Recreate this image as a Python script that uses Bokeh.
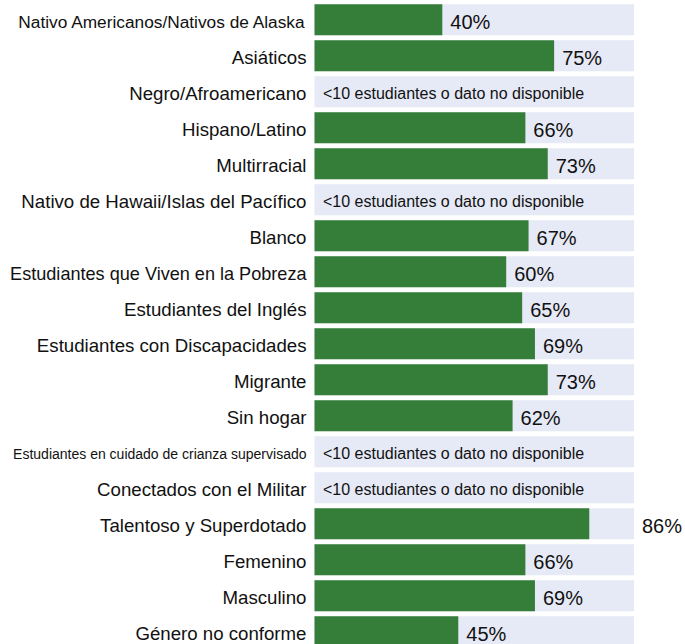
from bokeh.plotting import figure
from bokeh.models import Range1d, ColumnDataSource
from bokeh.core.properties import value
from bokeh.embed import file_html
from bokeh.resources import INLINE

categories = [
    "Nativo Americanos/Nativos de Alaska",
    "Asiáticos",
    "Negro/Afroamericano",
    "Hispano/Latino",
    "Multirracial",
    "Nativo de Hawaii/Islas del Pacífico",
    "Blanco",
    "Estudiantes que Viven en la Pobreza",
    "Estudiantes del Inglés",
    "Estudiantes con Discapacidades",
    "Migrante",
    "Sin hogar",
    "Estudiantes en cuidado de crianza supervisado",
    "Conectados con el Militar",
    "Talentoso y Superdotado",
    "Femenino",
    "Masculino",
    "Género no conforme",
]
values = [40, 75, None, 66, 73, None, 67, 60, 65, 69, 73, 62, None, None, 86, 66, 69, 45]
missing_text = "<10 estudiantes o dato no disponible"
full_scale = 100

# styling
GREEN = "#357E3A"
BG = "#E6E9F6"
TXT = "#111111"
FONT = "Liberation Sans"
label_size = {"Nativo Americanos/Nativos de Alaska": "17.3px",
              "Estudiantes que Viven en la Pobreza": "18.1px",
              "Estudiantes en cuidado de crianza supervisado": "14px"}

px_per = 3.195
W, H = 685, 644
x0_px = 314
x_start = -x0_px / px_per
x_end = x_start + W / px_per
pitch = 36.0
y_top = -19.3 / pitch
y_bot = y_top + H / pitch

p = figure(width=W, height=H, output_backend="svg", toolbar_location=None,
           x_range=Range1d(x_start, x_end), y_range=Range1d(y_bot, y_top),
           min_border=0, min_border_left=0, min_border_right=0,
           min_border_top=0, min_border_bottom=0)
p.xaxis.visible = False
p.yaxis.visible = False
p.grid.visible = False
p.outline_line_color = None
p.background_fill_color = "white"
p.border_fill_color = "white"

idx = list(range(len(categories)))
bar_h = 31 / pitch

p.hbar(y=idx, left=0, right=[full_scale] * len(idx), height=bar_h,
       fill_color=BG, line_color=None)

have = [i for i, v in enumerate(values) if v is not None]
p.hbar(y=have, left=0, right=[values[i] for i in have], height=bar_h,
       fill_color=GREEN, line_color=None)

# value labels
lx = [values[i] if values[i] <= 80 else full_scale for i in have]
p.text(x=lx, y=have, text=[f"{values[i]}%" for i in have],
       x_offset=8, y_offset=2.5, text_align="left", text_baseline="middle",
       text_font=value(FONT), text_font_size="20px", text_color=TXT)

# missing labels
miss = [i for i, v in enumerate(values) if v is None]
p.text(x=[0] * len(miss), y=miss, text=[missing_text] * len(miss),
       x_offset=8.5, y_offset=1.5, text_align="left", text_baseline="middle",
       text_font=value(FONT), text_font_size="16px", text_color=TXT)

# category labels
src = ColumnDataSource(dict(x=[0] * len(idx), y=idx, t=categories,
                            fs=[label_size.get(c, "18.67px") for c in categories]))
p.text(x="x", y="y", text="t", source=src, x_offset=-8, y_offset=2,
       text_align="right", text_baseline="middle",
       text_font=value(FONT), text_font_size="fs", text_color=TXT)

open("out.html", "w").write(file_html(p, INLINE))
